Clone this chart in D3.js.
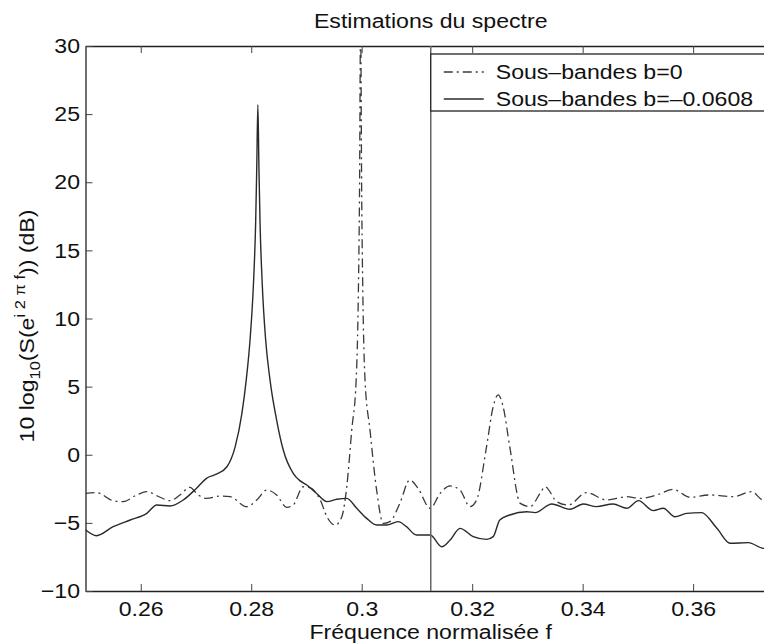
<!DOCTYPE html>
<html>
<head>
<meta charset="utf-8">
<script src="https://cdn.jsdelivr.net/npm/d3@7"></script>
<style>
  body { margin: 0; background: #fff; }
  svg { display: block; font-family: "Liberation Sans", Arial, sans-serif; }
</style>
</head>
<body>
<div id="chart"></div>
<script>
// Frequencies and levels (dB)
const bandF = [0.2500, 0.2520, 0.2550, 0.2568, 0.2593, 0.2611, 0.2635, 0.2653, 0.2671, 0.2689,
  0.2704, 0.2719, 0.2744, 0.2762, 0.2792, 0.2810, 0.2828, 0.2846, 0.2864, 0.2876,
  0.2894, 0.2905, 0.2925, 0.2937, 0.2952, 0.2964, 0.2973, 0.2982, 0.2990, 0.2994,
  0.2996, 0.2998, 0.3000, 0.3002, 0.3006, 0.3015, 0.3027, 0.3039, 0.3051, 0.3069,
  0.3087, 0.3102, 0.3124, 0.3142, 0.3160, 0.3178, 0.3196, 0.3208, 0.3226, 0.3238,
  0.3247, 0.3256, 0.3268, 0.3287, 0.3305, 0.3323, 0.3332, 0.3353, 0.3374, 0.3407,
  0.3443, 0.3480, 0.3504, 0.3534, 0.3564, 0.3594, 0.3630, 0.3673, 0.3706, 0.3727, 0.3750];
const bandDb = [-2.83, -2.78, -3.37, -3.44, -2.95, -2.71, -3.12, -3.37, -2.95, -2.39,
  -2.95, -3.2, -3.03, -3.08, -3.81, -3.32, -2.59, -2.95, -3.86, -3.69,
  -2.35, -2.4, -3.32, -4.55, -5.16, -4.55, -2.34, 1.82, 5.5, 12,
  19, 32, 19, 12, 5.5, 1.82, -2.59, -5.04, -4.91, -3.57,
  -1.85, -2.46, -3.93, -2.83, -2.29, -2.59, -3.81, -3.32, 0.59, 3.53,
  4.4, 3.53, 0.59, -3.57, -3.8, -2.83, -2.35, -3.44, -3.69, -2.78,
  -3.32, -3.08, -3.2, -2.95, -2.54, -3.12, -2.95, -3.08, -2.71, -3.32, -3.1];

const shiftF = [0.2500, 0.2520, 0.2550, 0.2581, 0.2611, 0.2629, 0.2653, 0.2677, 0.2701, 0.2719,
  0.2737, 0.2756, 0.2771, 0.2783, 0.2791, 0.2798, 0.2804, 0.2808, 0.2810, 0.2812,
  0.2814, 0.2816, 0.2820, 0.2826, 0.2834, 0.2846, 0.2858, 0.2876, 0.2888, 0.2900,
  0.2918, 0.2937, 0.2955, 0.2973, 0.2991, 0.3009, 0.3027, 0.3045, 0.3066, 0.3081,
  0.3099, 0.3124, 0.3145, 0.3160, 0.3178, 0.3202, 0.3226, 0.3238, 0.3250, 0.3268,
  0.3299, 0.3314, 0.3344, 0.3377, 0.3401, 0.3425, 0.3455, 0.3480, 0.3501, 0.3528,
  0.3546, 0.3567, 0.3588, 0.3615, 0.3643, 0.3667, 0.3700, 0.3727, 0.3750];
const shiftDb = [-5.5, -5.94, -5.28, -4.79, -4.3, -3.69, -3.76, -3.32, -2.46, -1.73,
  -1.43, -0.88, 0.6, 3.0, 5.5, 8.5, 12.5, 17, 21, 25.7,
  21, 17, 12.5, 8.5, 5.5, 2.55, 0.35, -1.36, -1.9, -2.2,
  -2.83, -3.44, -3.27, -3.2, -3.93, -4.67, -5.16, -5.16, -4.91, -5.28,
  -5.89, -5.89, -6.75, -6.26, -5.4, -6.01, -6.21, -6.01, -4.79, -4.42,
  -4.18, -4.25, -3.61, -4.0, -3.61, -3.81, -3.61, -3.93, -3.37, -4.1,
  -3.93, -4.55, -4.3, -4.25, -5.4, -6.5, -6.45, -6.87, -6.9];

const legendLabels = ["Sous\u2013bandes b=0", "Sous\u2013bandes b=\u20130.0608"];
const xTicks = [0.26, 0.28, 0.30, 0.32, 0.34, 0.36];
const yTicks = [-10, -5, 0, 5, 10, 15, 20, 25, 30];
const xDomain = [0.25, 0.375];
const yDomain = [-10, 30];
const markerF = 0.3125;

class SpectrumChart {
  constructor(_config) {
    this.config = {
      parentElement: _config.parentElement,
      containerWidth: 764,
      containerHeight: 644,
      fontSize: 21,
      stretch: 1.1, // the original font runs a bit wider than Liberation Sans
      margin: { top: 46, left: 85.5, plotWidth: 690.5, plotHeight: 545 }
    };
    this.initVis();
  }

  initVis() {
    let vis = this;
    const m = vis.config.margin;
    vis.width = m.plotWidth;
    vis.height = m.plotHeight;

    vis.svgRoot = d3.select(vis.config.parentElement).append('svg')
      .attr('width', vis.config.containerWidth)
      .attr('height', vis.config.containerHeight);

    vis.svgRoot.append('defs').append('clipPath').attr('id', 'plot-clip')
      .append('rect').attr('width', vis.width).attr('height', vis.height);

    vis.svg = vis.svgRoot.append('g')
      .attr('transform', `translate(${m.left},${m.top})`);

    vis.x = d3.scaleLinear().domain(xDomain).range([0, vis.width]);
    vis.y = d3.scaleLinear().domain(yDomain).range([vis.height, 0]);

    vis.renderVis();
  }

  renderVis() {
    let vis = this;
    const fs = vis.config.fontSize + 'px';
    const sx = `scale(${vis.config.stretch},1)`;
    const cx = vis.config.margin.left + vis.width / 2;
    const fmt = d => (+d.toFixed(2)).toString().replace('-', '\u2212');

    // axes, ticks pointing inward like matlab
    const bottom = vis.svg.append('g').attr('transform', `translate(0,${vis.height})`)
      .call(d3.axisBottom(vis.x).tickValues(xTicks).tickFormat(fmt).tickSizeInner(-7).tickSizeOuter(0).tickPadding(10));
    const top = vis.svg.append('g')
      .call(d3.axisTop(vis.x).tickValues(xTicks).tickFormat('').tickSizeInner(-7).tickSizeOuter(0));
    const left = vis.svg.append('g')
      .call(d3.axisLeft(vis.y).tickValues(yTicks).tickFormat(fmt).tickSizeInner(-7).tickSizeOuter(0).tickPadding(5));
    const right = vis.svg.append('g').attr('transform', `translate(${vis.width},0)`)
      .call(d3.axisRight(vis.y).tickValues(yTicks).tickFormat('').tickSizeInner(-7).tickSizeOuter(0));

    [bottom, top, left, right].forEach(a => {
      a.select('.domain').attr('stroke', '#222').attr('stroke-width', 1.3);
      a.selectAll('.tick line').attr('stroke', '#444');
      a.selectAll('.tick text').attr('fill', '#111').style('font-size', fs).attr('transform', sx);
    });

    const line = d3.line()
      .x(d => vis.x(d[0]))
      .y(d => vis.y(d[1]))
      .curve(d3.curveMonotoneX);

    const plot = vis.svg.append('g').attr('clip-path', 'url(#plot-clip)');

    plot.append('path')
      .datum(bandF.map((f, i) => [f, bandDb[i]]))
      .attr('fill', 'none')
      .attr('stroke', '#3a3a3a')
      .attr('stroke-width', 1.3)
      .attr('stroke-dasharray', '9,4,2,4')
      .attr('d', line);

    plot.append('path')
      .datum(shiftF.map((f, i) => [f, shiftDb[i]]))
      .attr('fill', 'none')
      .attr('stroke', '#2a2a2a')
      .attr('stroke-width', 1.4)
      .attr('d', line);

    // vertical marker
    plot.append('line')
      .attr('x1', vis.x(markerF)).attr('x2', vis.x(markerF))
      .attr('y1', 0).attr('y2', vis.height)
      .attr('stroke', '#666').attr('stroke-width', 1.5);

    // legend box
    const legend = vis.svg.append('g').attr('transform', `translate(${vis.x(markerF)},8)`);
    legend.append('rect')
      .attr('width', 400).attr('height', 57)
      .attr('fill', '#fff').attr('stroke', '#222').attr('stroke-width', 1.3);
    const items = legend.selectAll('g.item').data(legendLabels).join('g')
      .attr('class', 'item')
      .attr('transform', (d, i) => `translate(0,${18 + i * 27})`);
    items.append('line')
      .attr('x1', 13).attr('x2', 53)
      .attr('stroke', (d, i) => i ? '#2a2a2a' : '#3a3a3a')
      .attr('stroke-width', 1.3)
      .attr('stroke-dasharray', (d, i) => i ? null : '9,4,2,4');
    items.append('g').attr('transform', `translate(65,0) ${sx}`)
      .append('text')
      .attr('dy', '0.35em')
      .style('font-size', fs).attr('fill', '#111')
      .text(d => d);

    // title and labels
    vis.svgRoot.append('g').attr('transform', `translate(${cx},27.5) ${sx}`)
      .append('text')
      .attr('text-anchor', 'middle').style('font-size', fs).attr('fill', '#111')
      .text('Estimations du spectre');

    vis.svgRoot.append('g').attr('transform', `translate(${cx},638.5) ${sx}`)
      .append('text')
      .attr('text-anchor', 'middle').style('font-size', fs).attr('fill', '#111')
      .text('Fréquence normalisée f');

    const ylab = vis.svgRoot.append('text')
      .attr('transform', `translate(34,326) rotate(-90) ${sx}`)
      .attr('text-anchor', 'middle').style('font-size', fs).attr('fill', '#111');
    ylab.append('tspan').text('10 log');
    ylab.append('tspan').attr('dy', 6).style('font-size', '15px').text('10');
    ylab.append('tspan').attr('dy', -6).text('(S(e');
    ylab.append('tspan').attr('dy', -9).style('font-size', '15px').text('i 2 \u03c0 f');
    ylab.append('tspan').attr('dy', 9).text(')) (dB)');
  }
}

new SpectrumChart({ parentElement: '#chart' });
</script>
</body>
</html>
